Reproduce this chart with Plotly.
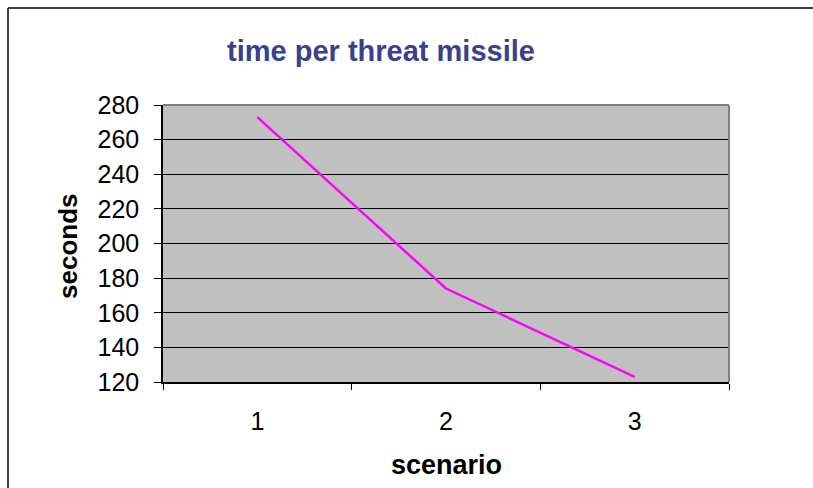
import plotly.graph_objects as go

# Data
scenarios = ["1", "2", "3"]
seconds = [273, 174, 123]
y_ticks = [120, 140, 160, 180, 200, 220, 240, 260, 280]

W, H = 813, 488
L, R, T, B = 163, 84, 105, 106
pw, ph = W - L - R, H - T - B

def px_x(x):
    return (x - L) / pw

def px_y(y):
    return (H - B - y) / ph

fig = go.Figure()
fig.add_trace(go.Scatter(
    x=scenarios, y=seconds, mode="lines",
    line=dict(color="#FF00FF", width=2.5),
    showlegend=False, hoverinfo="x+y",
))

font = "Liberation Sans, Arial, sans-serif"

fig.update_layout(
    width=W, height=H,
    margin=dict(l=L, r=R, t=T, b=B),
    paper_bgcolor="white",
    plot_bgcolor="#C0C0C0",
    font=dict(family=font, color="black"),
    title=dict(
        text="<b>time per threat missile</b>",
        font=dict(size=29, color="#3A3F8F", family=font),
        xref="container", yref="container",
        x=381 / W, y=1 - 51 / H, xanchor="center", yanchor="middle",
    ),
    xaxis=dict(
        type="category",
        range=[-0.5, len(scenarios) - 0.5],
        tickson="boundaries",
        ticks="outside", ticklen=6, tickcolor="black", tickwidth=1,
        showline=True, linecolor="black", linewidth=1.5,
        showgrid=False, zeroline=False,
        tickfont=dict(size=25, family=font),
        ticklabelstandoff=16,
    ),
    yaxis=dict(
        range=[120, 280],
        tickvals=y_ticks,
        ticks="outside", ticklen=7, tickcolor="black", tickwidth=1,
        showline=True, linecolor="black", linewidth=1.5,
        showgrid=True, gridcolor="black", gridwidth=1,
        zeroline=False,
        tickfont=dict(size=25, family=font),
        ticklabelstandoff=10,
    ),
    annotations=[
        dict(text="<b>seconds</b>", textangle=-90,
             xref="paper", yref="paper", x=px_x(68), y=px_y(246),
             xanchor="center", yanchor="middle", showarrow=False,
             font=dict(size=26, family=font, color="black")),
        dict(text="<b>scenario</b>",
             xref="paper", yref="paper", x=px_x(446), y=px_y(465),
             xanchor="center", yanchor="middle", showarrow=False,
             font=dict(size=27, family=font, color="black")),
    ],
    shapes=[
        # gray plot-area border on top and right
        dict(type="line", xref="paper", yref="paper", x0=0, x1=1, y0=1, y1=1,
             line=dict(color="#808080", width=2)),
        dict(type="line", xref="paper", yref="paper", x0=1, x1=1, y0=0, y1=1,
             line=dict(color="#808080", width=2)),
        # outer chart frame
        dict(type="line", xref="paper", yref="paper",
             x0=px_x(8), x1=px_x(W + 20), y0=px_y(8), y1=px_y(8),
             line=dict(color="black", width=1.5)),
        dict(type="line", xref="paper", yref="paper",
             x0=px_x(8), x1=px_x(8), y0=px_y(8), y1=px_y(H + 20),
             line=dict(color="black", width=1.5)),
    ],
)

fig.write_html("out.html")
